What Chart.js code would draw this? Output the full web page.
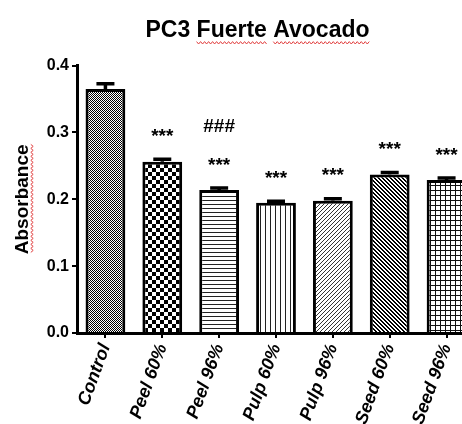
<!DOCTYPE html>
<html><head><meta charset="utf-8">
<script src="https://cdn.jsdelivr.net/npm/chart.js@4.4.1/dist/chart.umd.min.js"></script>
<style>html,body{margin:0;padding:0;overflow:hidden;background:#fff;width:462px;height:424px}canvas{display:block}</style>
</head><body>
<canvas id="c" width="514" height="440"></canvas>
<script>
const titleText = 'PC3 Fuerte Avocado';
const categories = ['Control','Peel 60%','Peel 96%','Pulp 60%','Pulp 96%','Seed 60%','Seed 96%'];
const absorbance = [0.365, 0.256, 0.214, 0.195, 0.198, 0.237, 0.229];
const errors     = [0.008, 0.004, 0.003, 0.002, 0.003, 0.003, 0.003];
const vsControl  = ['', '***', '***', '***', '***', '***', '***'];
const vsPeel60   = ['', '', '###', '', '', '', ''];
const yTicks = [0, 0.1, 0.2, 0.3, 0.4];
const patternKinds = ['fineCheck','coarseCheck','hlines','vlines','diagUp','diagDown','grid'];

const FONT = "'Liberation Sans', Arial, sans-serif";
const canvas = document.getElementById('c');
const mainCtx = canvas.getContext('2d');

function makePattern(kind){
  const c = document.createElement('canvas');
  const x = c.getContext('2d');
  let s = 4;
  const fill = (w,h)=>{c.width=w;c.height=h;x.fillStyle='#fff';x.fillRect(0,0,w,h);x.fillStyle='#000';};
  switch(kind){
    case 'fineCheck': fill(2,2); x.fillRect(0,0,1,1); x.fillRect(1,1,1,1); break;
    case 'coarseCheck': fill(8,8); x.fillRect(0,0,4,4); x.fillRect(4,4,4,4); break;
    case 'hlines': fill(4,4); x.fillStyle='#222'; x.fillRect(0,0,4,1); break;
    case 'vlines': fill(5,5); x.fillStyle='#222'; x.fillRect(0,0,1,5); break;
    case 'diagUp': s=4; fill(s,s); x.fillStyle='#333'; for(let i=0;i<s;i++){x.fillRect(i,s-1-i,1,1);} break;
    case 'diagDown': s=4; fill(s,s); for(let i=0;i<s;i++){x.fillRect(i,i,1,1); x.fillRect((i+1)%s,i,1,1);} break;
    case 'grid': fill(5,5); x.fillStyle='#111'; x.fillRect(0,0,5,1); x.fillRect(0,0,1,5); break;
  }
  return mainCtx.createPattern(c,'repeat');
}
const patterns = patternKinds.map(makePattern);

function squiggle(ctx, x0, x1, y, vertical){
  ctx.beginPath();
  let i = 0;
  for(let p = x0; p <= x1; p += 2){
    const o = (i % 2 === 0) ? -1.2 : 1.2;
    if(vertical){ if(i===0) ctx.moveTo(y+o, p); else ctx.lineTo(y+o, p); }
    else { if(i===0) ctx.moveTo(p, y+o); else ctx.lineTo(p, y+o); }
    i++;
  }
  ctx.stroke();
}

const annotPlugin = {
  id: 'annot',
  afterLayout(chart){
    // centre the title over the full figure width as in the reference
    chart.titleBlock.left = chart.titleBlock.left + 40;
  },
  afterDatasetsDraw(chart){
    const {ctx, scales:{y}} = chart;
    const meta = chart.getDatasetMeta(0);
    ctx.save();
    ctx.strokeStyle = '#000'; ctx.lineWidth = 3.5; ctx.lineCap = 'butt';
    meta.data.forEach((bar, i) => {
      const yt = y.getPixelForValue(absorbance[i] + errors[i]);
      const yb = y.getPixelForValue(absorbance[i]);
      ctx.beginPath();
      ctx.moveTo(bar.x, yb); ctx.lineTo(bar.x, yt);
      ctx.moveTo(bar.x - 9, yt); ctx.lineTo(bar.x + 9, yt);
      ctx.stroke();
      const capTop = yt - 1.75;
      ctx.fillStyle = '#000'; ctx.textAlign = 'center'; ctx.textBaseline = 'alphabetic';
      const starY = capTop - 27;
      if (vsControl[i]) {
        ctx.font = 'bold 19px ' + FONT;
        ctx.fillText(vsControl[i], bar.x, starY + 0.6 * 19);
      }
      if (vsPeel60[i]) {
        ctx.font = 'bold 19px ' + FONT;
        ctx.fillText(vsPeel60[i], bar.x, starY - 34 + 0.35 * 19);
      }
    });
    // spell-check squiggles seen in the reference
    ctx.strokeStyle = '#e04040'; ctx.lineWidth = 1;
    ctx.font = 'bold 23px ' + FONT;
    const tb = chart.titleBlock;
    const cx = (tb.left + tb.right) / 2;
    const tw = ctx.measureText(titleText).width;
    const tx0 = cx - tw / 2;
    const wPre = ctx.measureText('PC3 ').width;
    const wF = ctx.measureText('Fuerte').width;
    const wPre2 = ctx.measureText('PC3 Fuerte ').width;
    const sy = tb.top + 17 + 13.8 + 12;
    squiggle(ctx, tx0 + wPre, tx0 + wPre + wF, sy, false);
    squiggle(ctx, tx0 + wPre2, tx0 + tw, sy, false);
    ctx.font = 'bold 19px ' + FONT;
    const aw = ctx.measureText('Absorbance').width;
    const my = (chart.chartArea.top + chart.chartArea.bottom) / 2;
    squiggle(ctx, my - aw / 2, my + aw / 2, 32, true);
    ctx.restore();
  }
};

new Chart(canvas, {
  type: 'bar',
  data: {
    labels: categories,
    datasets: [{
      data: absorbance,
      backgroundColor: patterns,
      borderColor: '#000',
      borderWidth: 3,
      borderSkipped: 'start',
      barPercentage: 0.7,
      categoryPercentage: 1.0
    }]
  },
  options: {
    responsive: false,
    animation: false,
    events: [],
    layout: { padding: { left: 0, right: 39, top: 0, bottom: 0 } },
    plugins: {
      legend: { display: false },
      tooltip: { enabled: false },
      title: {
        display: true, text: titleText, color: '#000',
        font: { family: FONT, size: 23, weight: 'bold' },
        padding: { top: 17, bottom: 21 }
      }
    },
    scales: {
      x: {
        offset: true,
        grid: { drawOnChartArea: false, drawTicks: true, tickLength: 5, offset: false, color: '#000', lineWidth: 2 },
        border: { color: '#000', width: 3 },
        ticks: {
          color: '#000', autoSkip: false, minRotation: 70, maxRotation: 70, padding: 3,
          font: { family: FONT, size: 18, weight: 'bold', style: 'italic' }
        },
        afterFit(s){ s.height = 107; }
      },
      y: {
        min: 0, max: 0.4,
        afterBuildTicks(s){ s.ticks = yTicks.map(v => ({ value: v })); },
        grid: { drawOnChartArea: false, drawTicks: true, tickLength: 5, color: '#000', lineWidth: 2 },
        border: { color: '#000', width: 3 },
        ticks: {
          color: '#000', padding: 3,
          font: { family: FONT, size: 16, weight: 'bold' },
          callback: v => Number(v).toFixed(1)
        },
        title: {
          display: true, text: 'Absorbance', color: '#000',
          font: { family: FONT, size: 19, weight: 'bold' },
          padding: { top: 11, bottom: 0 }
        },
        afterFit(s){ s.width = 77; }
      }
    }
  },
  plugins: [annotPlugin]
});
</script>
</body></html>
